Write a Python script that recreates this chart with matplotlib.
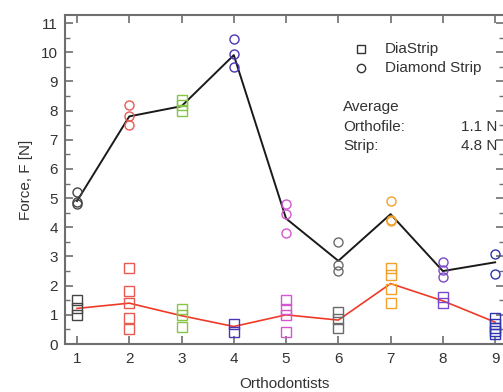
import matplotlib
matplotlib.use("Agg")
import matplotlib.pyplot as plt
from matplotlib.ticker import MultipleLocator

plt.rcParams['font.family'] = ['Liberation Sans', 'DejaVu Sans']

orthodontists = [1, 2, 3, 4, 5, 6, 7, 8, 9]
group_colors = ['#454545', '#e85a50', '#86c443', '#4a35b5', '#d456d0',
                '#6a6a6a', '#f0a22a', '#7a48c8', '#2f35b0']

# Upper group (Diamond Strip) individual measurements; marker per group
strip_values = [[5.2, 4.85, 4.8], [8.2, 7.8, 7.5], [8.35, 8.2, 8.0],
                [10.45, 9.95, 9.5], [4.8, 4.45, 3.8], [3.5, 2.7, 2.5],
                [4.9, 4.25, 4.2], [2.8, 2.55, 2.3], [3.1, 2.4]]
strip_markers = ['o', 'o', 's', 'o', 'o', 'o', 'o', 'o', 'o']
strip_mean = [4.9, 7.8, 8.15, 9.9, 4.3, 2.85, 4.45, 2.5, 2.8]

# Lower group (DiaStrip / Orthofile) individual measurements
ortho_values = [[1.5, 1.25, 1.0], [2.6, 1.8, 1.4, 0.9, 0.5], [1.2, 1.0, 0.6],
                [0.7, 0.4], [1.5, 1.2, 1.0, 0.4], [1.1, 0.85, 0.55],
                [2.6, 2.35, 1.9, 1.4], [1.6, 1.4], [0.9, 0.7, 0.55, 0.45, 0.35]]
ortho_mean = [1.22, 1.4, 0.97, 0.6, 1.0, 0.82, 2.07, 1.48, 0.75]

legend_labels = ['DiaStrip', 'Diamond Strip']
avg_labels = ['Average', 'Orthofile:', 'Strip:']
avg_values = ['1.1 N', '4.8 N']

fig = plt.figure(figsize=(5.03, 3.92), dpi=100)
ax = fig.add_axes([0.1292, 0.1224, 0.8728, 0.839])

ax.plot(orthodontists, strip_mean, color='#1a1a1a', lw=1.4, zorder=2)
ax.plot(orthodontists, ortho_mean, color='#f03a28', lw=1.2, zorder=2)

ms = 6.5
for x, vals, mk, c in zip(orthodontists, strip_values, strip_markers, group_colors):
    ax.plot([x] * len(vals), vals, linestyle='none', marker=mk, ms=ms,
            mfc='none', mec=c, mew=1.0, zorder=3)
for x, vals, c in zip(orthodontists, ortho_values, group_colors):
    ax.plot([x] * len(vals), vals, linestyle='none', marker='s', ms=ms,
            mfc='none', mec=c, mew=1.0, zorder=3)

ax.set_xlim(0.77, 9.17)
ax.set_ylim(0, 11.27)
ax.xaxis.set_major_locator(MultipleLocator(1))
ax.yaxis.set_major_locator(MultipleLocator(1))
ax.yaxis.set_minor_locator(MultipleLocator(0.5))

spine_c = '#6e6e6e'
for s in ax.spines.values():
    s.set_color(spine_c)
    s.set_linewidth(1.5)
ax.tick_params(which='both', direction='in', top=True, right=True,
               color=spine_c, labelsize=11, labelcolor='#333333')
ax.tick_params(which='major', length=6, width=1.2)
ax.tick_params(which='minor', length=3.5, width=1.0)
ax.tick_params(axis='x', pad=6)
ax.tick_params(axis='y', pad=5)

ax.set_xlabel('Orthodontists', fontsize=11, color='#333333', labelpad=8)
ax.set_ylabel('Force, F [N]', fontsize=11, color='#333333', labelpad=6)

# legend (drawn manually to match layout)
for i, (mk, lab) in enumerate(zip(['s', 'o'], legend_labels)):
    yy = [0.896, 0.840][i]
    ax.plot([0.675], [yy], transform=ax.transAxes, marker=mk, ms=6,
            mfc='none', mec='#333333', mew=1.0, clip_on=False)
    ax.text(0.728, yy, lab, transform=ax.transAxes, fontsize=11,
            color='#333333', va='center', ha='left')

ax.text(0.634, 0.72, avg_labels[0], transform=ax.transAxes, fontsize=11,
        color='#333333', va='center')
ax.text(0.634, 0.659, avg_labels[1], transform=ax.transAxes, fontsize=11,
        color='#333333', va='center')
ax.text(0.634, 0.601, avg_labels[2], transform=ax.transAxes, fontsize=11,
        color='#333333', va='center')
ax.text(0.986, 0.659, avg_values[0], transform=ax.transAxes, fontsize=11,
        color='#333333', va='center', ha='right')
ax.text(0.986, 0.601, avg_values[1], transform=ax.transAxes, fontsize=11,
        color='#333333', va='center', ha='right')

fig.savefig('out.png', dpi=100)
